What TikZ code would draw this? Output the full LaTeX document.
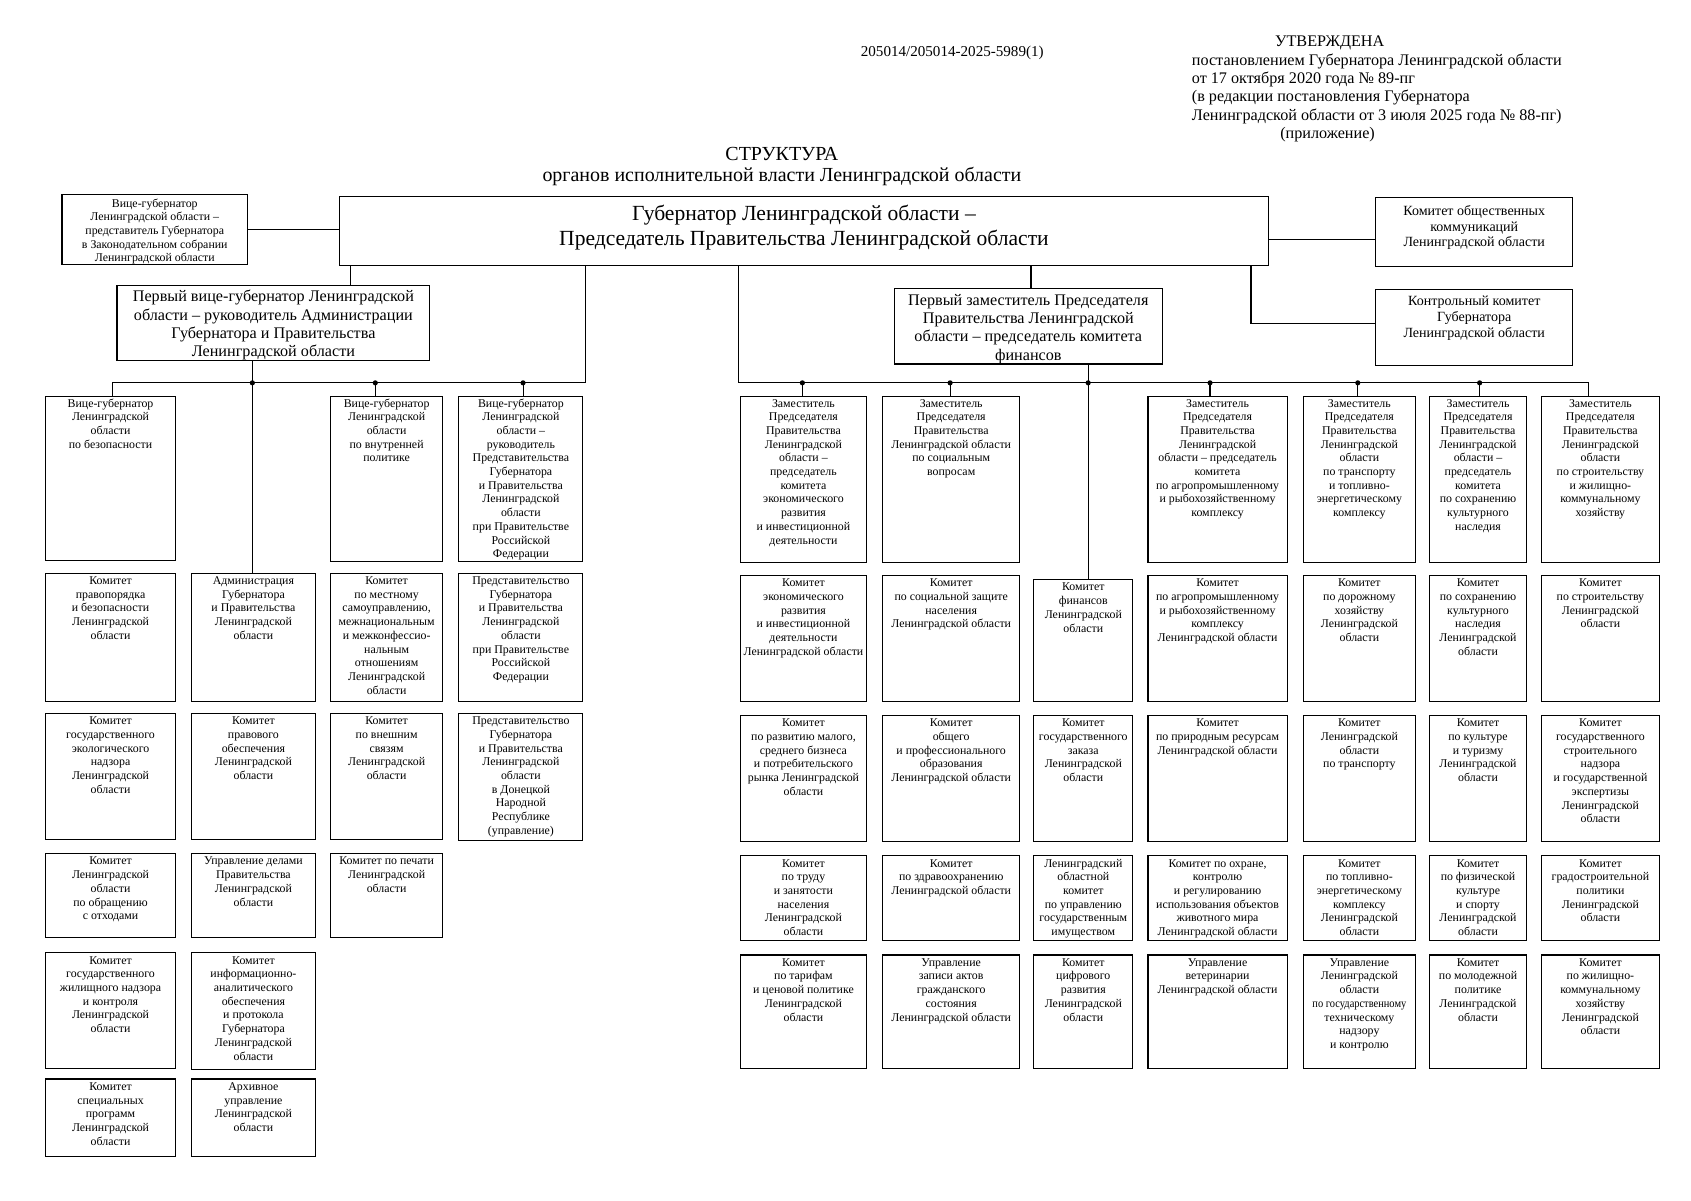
\documentclass[tikz,border=0pt]{standalone}
\usepackage{fontspec}
\setmainfont{Liberation Serif}
\tikzset{
  bx/.style={draw, line width=1pt, inner sep=0pt, anchor=north west, font=\fontsize{11}{12.7}\selectfont},
  bigtxt/.style={font=\fontsize{15}{17}\selectfont},
  govtxt/.style={font=\fontsize{20}{23}\selectfont},
  midtxt/.style={font=\fontsize{13}{14.7}\selectfont},
  conn/.style={line width=1pt},
  hdr/.style={inner sep=0pt, anchor=base west, font=\fontsize{15}{17}\selectfont},
}
% \bx[style]{name}{x}{y}{w}{h}{pad}{text}
\newcommand\bx[7][]{\node[bx,#1] (#2) at (#3,#4) {\parbox[t][#6pt][t]{#5pt}{\centering\rule{0pt}{#7pt}\ignorespaces}};}
\newcommand\bxx[8][]{\node[bx,#1] (#2) at (#3,#4) {\parbox[t][#6pt][t]{#5pt}{\centering\rule{0pt}{#7pt}#8}};}
\newcommand\dotat[1]{\fill (#1,355) circle (2.4);}
\begin{document}
\begin{tikzpicture}[x=1pt,y=-1pt]
\useasboundingbox (0,0) rectangle (1568,1113);
% header
\node[inner sep=0pt, anchor=base, font=\fontsize{14}{16}\selectfont] (docnum) at (883,52) {205014/205014-2025-5989(1)};
\node[inner sep=0pt, anchor=base, font=\fontsize{15}{17}\selectfont] (utv) at (1233,43) {УТВЕРЖДЕНА};
\node[hdr] (h1) at (1105,60.5) {постановлением Губернатора Ленинградской области};
\node[hdr] (h2) at (1105,77.5) {от 17 октября 2020 года № 89-пг};
\node[hdr] (h3) at (1105,94.5) {(в редакции постановления Губернатора};
\node[hdr] (h4) at (1105,111.5) {Ленинградской области от 3 июля 2025 года № 88-пг)};
\node[inner sep=0pt, anchor=base, font=\fontsize{15}{17}\selectfont] (h5) at (1231,128) {(приложение)};
\node[inner sep=0pt, anchor=base, font=\fontsize{18.5}{20}\selectfont] (t1) at (725,149) {СТРУКТУРА};
\node[inner sep=0pt, anchor=base, font=\fontsize{18.5}{20}\selectfont] (t2) at (725,168) {органов исполнительной власти Ленинградской области};

% top level
\bxx{V0}{57}{180}{172}{65}{11.5}{Вице-губернатор\\Ленинградской области –\\представитель Губернатора\\в Законодательном собрании\\Ленинградской области}
\bxx[govtxt]{GOV}{314}{182}{862}{64}{22}{Губернатор Ленинградской области –\\Председатель Правительства Ленинградской области}
\bxx[midtxt]{KOK}{1275}{183}{183}{64}{16}{Комитет общественных\\коммуникаций\\Ленинградской области}
\bxx[midtxt]{KK}{1275}{268}{183}{70}{15}{Контрольный комитет\\Губернатора\\Ленинградской области}
\bxx[bigtxt]{PV}{108}{264}{290}{70}{15.5}{Первый вице-губернатор Ленинградской\\области – руководитель Администрации\\Губернатора и Правительства\\Ленинградской области}
\bxx[bigtxt]{PZ}{829}{267}{248}{70}{15.5}{Первый заместитель Председателя\\Правительства Ленинградской\\области – председатель комитета\\финансов}

% left block
\bxx{A1}{42}{367}{120}{152}{10}{Вице-губернатор\\Ленинградской\\области\\по безопасности}
\bxx{A3}{306}{367}{104}{153}{10}{Вице-губернатор\\Ленинградской\\области\\по внутренней\\политике}
\bxx{A4}{425}{367}{115}{153}{10}{Вице-губернатор\\Ленинградской\\области –\\руководитель\\Представительства\\Губернатора\\и Правительства\\Ленинградской\\области\\при Правительстве\\Российской\\Федерации}

\bxx{B1}{42}{531}{120}{119}{10.5}{Комитет\\правопорядка\\и безопасности\\Ленинградской\\области}
\bxx{B2}{177}{531}{115}{119}{10.5}{Администрация\\Губернатора\\и Правительства\\Ленинградской\\области}
\bxx{B3}{306}{531}{104}{119}{10.5}{Комитет\\по местному\\самоуправлению,\\межнациональным\\и межконфессио-\\нальным\\отношениям\\Ленинградской\\области}
\bxx{B4}{425}{531}{115}{119}{10.5}{Представительство\\Губернатора\\и Правительства\\Ленинградской\\области\\при Правительстве\\Российской\\Федерации}

\bxx{C1}{42}{661}{120}{117}{10.5}{Комитет\\государственного\\экологического\\надзора\\Ленинградской\\области}
\bxx{C2}{177}{661}{115}{117}{10.5}{Комитет\\правового\\обеспечения\\Ленинградской\\области}
\bxx{C3}{306}{661}{104}{117}{10.5}{Комитет\\по внешним\\связям\\Ленинградской\\области}
\bxx{C4}{425}{661}{115}{118}{10.5}{Представительство\\Губернатора\\и Правительства\\Ленинградской\\области\\в Донецкой\\Народной\\Республике\\(управление)}

\bxx{D1}{42}{791}{120}{78}{10.5}{Комитет\\Ленинградской\\области\\по обращению\\с отходами}
\bxx{D2}{177}{791}{115}{78}{10.5}{Управление делами\\Правительства\\Ленинградской\\области}
\bxx{D3}{306}{791}{104}{78}{10.5}{Комитет по печати\\Ленинградской\\области}

\bxx{E1}{42}{883}{120}{107}{10.5}{Комитет\\государственного\\жилищного надзора\\и контроля\\Ленинградской\\области}
\bxx{E2}{177}{883}{115}{108}{10.5}{Комитет\\информационно-\\аналитического\\обеспечения\\и протокола\\Губернатора\\Ленинградской\\области}

\bxx{F1}{42}{1000}{120}{72}{10.5}{Комитет\\специальных\\программ\\Ленинградской\\области}
\bxx{F2}{177}{1000}{115}{72}{10.5}{Архивное\\управление\\Ленинградской\\области}

% right block
\bxx{G1}{686}{367}{117}{154}{10}{Заместитель\\Председателя\\Правительства\\Ленинградской\\области –\\председатель\\комитета\\экономического\\развития\\и инвестиционной\\деятельности}
\bxx{G2}{818}{367}{127}{154}{10}{Заместитель\\Председателя\\Правительства\\Ленинградской области\\по социальным\\вопросам}
\bxx{G4}{1064}{367}{129}{154}{10}{Заместитель\\Председателя\\Правительства\\Ленинградской\\области – председатель\\комитета\\по агропромышленному\\и рыбохозяйственному\\комплексу}
\bxx{G5}{1208}{367}{104}{154}{10}{Заместитель\\Председателя\\Правительства\\Ленинградской\\области\\по транспорту\\и топливно-\\энергетическому\\комплексу}
\bxx{G6}{1325}{367}{90}{154}{10}{Заместитель\\Председателя\\Правительства\\Ленинградской\\области –\\председатель\\комитета\\по сохранению\\культурного\\наследия}
\bxx{G7}{1429}{367}{109}{154}{10}{Заместитель\\Председателя\\Правительства\\Ленинградской\\области\\по строительству\\и жилищно-\\коммунальному\\хозяйству}

\bxx{H1}{686}{533}{117}{117}{10.5}{Комитет\\экономического\\развития\\и инвестиционной\\деятельности\\Ленинградской области}
\bxx{H2}{818}{533}{127}{117}{10.5}{Комитет\\по социальной защите\\населения\\Ленинградской области}
\bxx{H3}{958}{537}{92}{113}{10.5}{Комитет\\финансов\\Ленинградской\\области}
\bxx{H4}{1064}{533}{129}{117}{10.5}{Комитет\\по агропромышленному\\и рыбохозяйственному\\комплексу\\Ленинградской области}
\bxx{H5}{1208}{533}{104}{117}{10.5}{Комитет\\по дорожному\\хозяйству\\Ленинградской\\области}
\bxx{H6}{1325}{533}{90}{117}{10.5}{Комитет\\по сохранению\\культурного\\наследия\\Ленинградской\\области}
\bxx{H7}{1429}{533}{109}{117}{10.5}{Комитет\\по строительству\\Ленинградской\\области}

\bxx{I1}{686}{663}{117}{117}{10.5}{Комитет\\по развитию малого,\\среднего бизнеса\\и потребительского\\рынка Ленинградской\\области}
\bxx{I2}{818}{663}{127}{117}{10.5}{Комитет\\общего\\и профессионального\\образования\\Ленинградской области}
\bxx{I3}{958}{663}{92}{117}{10.5}{Комитет\\государственного\\заказа\\Ленинградской\\области}
\bxx{I4}{1064}{663}{129}{117}{10.5}{Комитет\\по природным ресурсам\\Ленинградской области}
\bxx{I5}{1208}{663}{104}{117}{10.5}{Комитет\\Ленинградской\\области\\по транспорту}
\bxx{I6}{1325}{663}{90}{117}{10.5}{Комитет\\по культуре\\и туризму\\Ленинградской\\области}
\bxx{I7}{1429}{663}{109}{117}{10.5}{Комитет\\государственного\\строительного\\надзора\\и государственной\\экспертизы\\Ленинградской\\области}

\bxx{J1}{686}{793}{117}{79}{10.5}{Комитет\\по труду\\и занятости\\населения\\Ленинградской\\области}
\bxx{J2}{818}{793}{127}{79}{10.5}{Комитет\\по здравоохранению\\Ленинградской области}
\bxx{J3}{958}{793}{92}{79}{10.5}{Ленинградский\\областной\\комитет\\по управлению\\государственным\\имуществом}
\bxx{J4}{1064}{793}{129}{79}{10.5}{Комитет по охране,\\контролю\\и регулированию\\использования объектов\\животного мира\\Ленинградской области}
\bxx{J5}{1208}{793}{104}{79}{10.5}{Комитет\\по топливно-\\энергетическому\\комплексу\\Ленинградской\\области}
\bxx{J6}{1325}{793}{90}{79}{10.5}{Комитет\\по физической\\культуре\\и спорту\\Ленинградской\\области}
\bxx{J7}{1429}{793}{109}{79}{10.5}{Комитет\\градостроительной\\политики\\Ленинградской\\области}

\bxx{K1}{686}{885}{117}{105}{10.5}{Комитет\\по тарифам\\и ценовой политике\\Ленинградской\\области}
\bxx{K2}{818}{885}{127}{105}{10.5}{Управление\\записи актов\\гражданского\\состояния\\Ленинградской области}
\bxx{K3}{958}{885}{92}{105}{10.5}{Комитет\\цифрового\\развития\\Ленинградской\\области}
\bxx{K4}{1064}{885}{129}{105}{10.5}{Управление\\ветеринарии\\Ленинградской области}
\bxx{K5}{1208}{885}{104}{105}{10.5}{Управление\\Ленинградской\\области\\\scalebox{0.88}[1]{по государственному}\\техническому\\надзору\\и контролю}
\bxx{K6}{1325}{885}{90}{105}{10.5}{Комитет\\по молодежной\\политике\\Ленинградской\\области}
\bxx{K7}{1429}{885}{109}{105}{10.5}{Комитет\\по жилищно-\\коммунальному\\хозяйству\\Ленинградской\\области}

% connectors
\draw[conn] (V0.east) -- (V0.east -| GOV.west);
\draw[conn] (GOV.east |- 0,222) -- (KOK.west |- 0,222);
\draw[conn] (GOV.south -| 1160,0) |- (KK.west |- 0,300);
\draw[conn] (GOV.south -| 325,0) -- (PV.north -| 325,0);
\draw[conn] (GOV.south -| 543,0) |- (104,355) -- (A1.north -| 104,0);
\draw[conn] (PV.south -| 234,0) -- (B2.north -| 234,0);
\draw[conn] (348,355) -- (A3.north -| 348,0);
\draw[conn] (485,355) -- (A4.north -| 485,0);
\dotat{234}\dotat{348}\dotat{485}

\draw[conn] (GOV.south -| 685,0) |- (1473,355) -- (G7.north -| 1473,0);
\draw[conn] (GOV.south -| 956,0) -- (PZ.north -| 956,0);
\draw[conn] (PZ.south -| 1009,0) -- (H3.north -| 1009,0);
\draw[conn] (744,355) -- (G1.north -| 744,0);
\draw[conn] (881,355) -- (G2.north -| 881,0);
\draw[conn] (1122,355) -- (G4.north -| 1122,0);
\draw[conn] (1259,355) -- (G5.north -| 1259,0);
\draw[conn] (1372,355) -- (G6.north -| 1372,0);
\dotat{744}\dotat{881}\dotat{1009}\dotat{1122}\dotat{1259}\dotat{1372}
\end{tikzpicture}
\end{document}
